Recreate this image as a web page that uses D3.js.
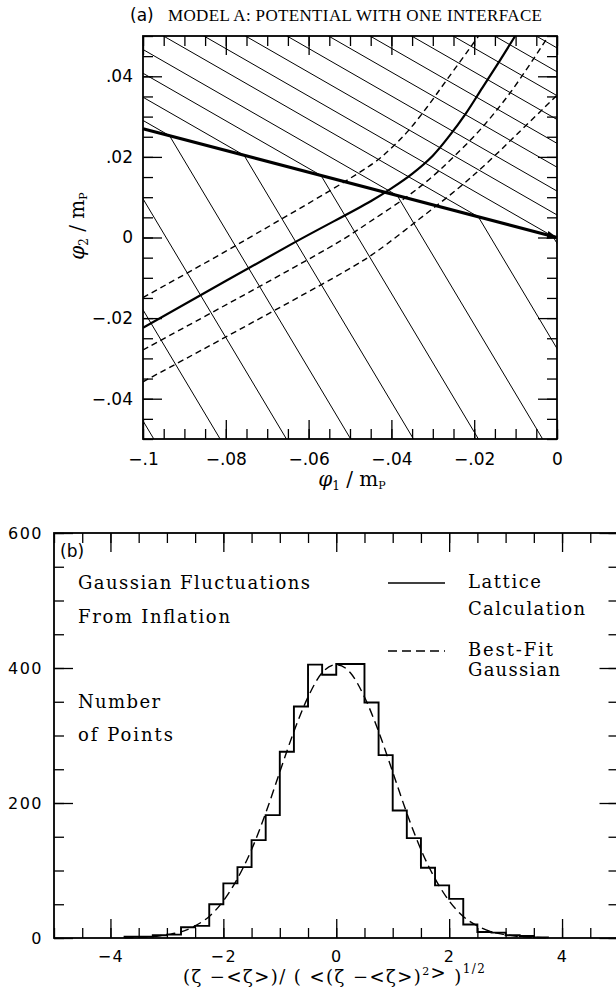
<!DOCTYPE html>
<html>
<head>
<meta charset="utf-8">
<script src="https://cdn.jsdelivr.net/npm/d3@7"></script>
<style>
  body { margin: 0; background: #fff; }
</style>
</head>
<body>
<div id="chart"></div>
<script>
// ---------- panel (a) data : field space, units of m_P ----------
const interfaceLine = [[-0.1, 0.027], [0, 0]];
// x where each equipotential contour meets the interface (some lie outside the frame)
const contourKinks = [-0.150, -0.131, -0.112, -0.0936, -0.0756, -0.057, -0.0386, -0.019, -0.001,
  0.0175, 0.036, 0.0545, 0.073, 0.0915, 0.11, 0.1285, 0.147];
const slopeAbove = -0.59;   // contour slope above the interface
const slopeBelow = -1.72;   // contour slope below the interface

const trajectory = [[-0.1, -0.0224], [-0.0637, -0.0014], [-0.045, 0.009], [-0.04, 0.0122],
  [-0.035, 0.0158], [-0.03, 0.0203], [-0.026, 0.0252], [-0.022, 0.0308], [-0.018, 0.0372],
  [-0.014, 0.0436], [-0.0101, 0.05]];
const trackUpper = [[-0.1, -0.0149], [-0.0766, -0.0014], [-0.0444, 0.0184], [-0.04, 0.0222],
  [-0.036, 0.0264], [-0.0315, 0.0322], [-0.0267, 0.039], [-0.0202, 0.0482], [-0.0188, 0.0502]];
const trackLower1 = [[-0.1, -0.0279], [-0.0532, -0.0014], [-0.0452, 0.0039], [-0.0363, 0.0101],
  [-0.03, 0.0152], [-0.025, 0.02], [-0.0186, 0.0267], [-0.0114, 0.0358], [-0.0037, 0.0474], [-0.0021, 0.05]];
const trackLower2 = [[-0.1, -0.0358], [-0.0492, -0.0072], [-0.0436, -0.0035], [-0.0331, 0.0047],
  [-0.0234, 0.0126], [-0.017, 0.0184], [-0.0098, 0.0255], [-0.0013, 0.034], [0, 0.0353]];

const xTicksA = [-0.1, -0.08, -0.06, -0.04, -0.02, 0];
const xTickLabelsA = ["\u2212.1", "\u2212.08", "\u2212.06", "\u2212.04", "\u2212.02", "0"];
const yTicksA = [-0.04, -0.02, 0, 0.02, 0.04];
const yTickLabelsA = ["\u2212.04", "\u2212.02", "0", ".02", ".04"];

// ---------- panel (b) data : histogram of normalised zeta ----------
const binStart = -3.75, binWidth = 0.25;
const latticeCounts = [2, 2, 4, 5, 16, 18, 50, 81, 105, 145, 182, 276, 343, 405, 390,
  406, 406, 349, 271, 189, 148, 104, 78, 58, 20, 9, 8, 4, 3, 1];
const fitX = [-3.75, -3.5, -3.25, -3, -2.75, -2.5, -2.25, -2, -1.75, -1.5, -1.25, -1, -0.75, -0.5, -0.25, 0,
  0.25, 0.5, 0.75, 1, 1.25, 1.5, 1.75, 2, 2.25, 2.5, 2.75, 3, 3.25, 3.5, 3.75];
const fitY = [0.4, 1, 2, 5, 9, 18, 32, 55, 88, 131, 185, 246, 306, 357, 393, 405,
  393, 357, 306, 246, 185, 131, 88, 55, 32, 18, 9, 5, 2, 1, 0.4];
const xTicksB = [-4, -2, 0, 2, 4];
const xTickLabelsB = ["\u22124", "\u22122", "0", "2", "4"];
const yTicksB = [0, 200, 400, 600];

const svg = d3.select("#chart").append("svg")
  .attr("width", 616)
  .attr("height", 988);

// helper: inward ticks, major + minor, no domain line
function ticks(g, axis, scale, major, minor, labels, pad) {
  g.append("g").call(axis(scale).tickValues(minor).tickSize(-10).tickFormat(""))
    .call(s => s.select(".domain").remove());
  const m = g.append("g").call(axis(scale).tickValues(major).tickSize(-19).tickPadding(pad || 0)
      .tickFormat(labels ? (d, i) => labels[i] : ""))
    .call(s => s.select(".domain").remove());
  g.selectAll("line").attr("stroke", "#000").attr("stroke-width", 1.3);
  return m;
}

// ======================= panel (a) =======================
const xA = d3.scaleLinear().domain([-0.1, 0]).range([143, 557]);
const yA = d3.scaleLinear().domain([-0.05, 0.05]).range([439, 36]);
const lineA = d3.line().x(d => xA(d[0])).y(d => yA(d[1]));
const smoothA = d3.line().x(d => xA(d[0])).y(d => yA(d[1])).curve(d3.curveCatmullRom);

svg.append("defs").append("clipPath").attr("id", "clipA")
  .append("rect").attr("x", 143).attr("y", 36).attr("width", 414).attr("height", 403);

svg.select("defs").append("marker")
  .attr("id", "arrow")
  .attr("markerUnits", "userSpaceOnUse")
  .attr("viewBox", "0 0 10 8")
  .attr("refX", 10).attr("refY", 4)
  .attr("markerWidth", 10).attr("markerHeight", 8)
  .attr("orient", "auto")
  .append("path").attr("d", "M0,0L10,4L0,8Z").attr("fill", "#000");

const plotA = svg.append("g").attr("clip-path", "url(#clipA)");

// equipotentials, kinked where they cross the interface
const ifaceY = d3.scaleLinear().domain(interfaceLine.map(d => d[0])).range(interfaceLine.map(d => d[1]));
plotA.selectAll(".contour")
  .data(contourKinks)
  .join("path")
  .attr("class", "contour")
  .attr("d", k => {
    const yk = ifaceY(k);
    return lineA([[k - 0.3, yk - slopeAbove * 0.3], [k, yk], [k + 0.1, yk + slopeBelow * 0.1]]);
  })
  .attr("fill", "none")
  .attr("stroke", "#000")
  .attr("stroke-width", 1);

plotA.selectAll(".track")
  .data([trackUpper, trackLower1, trackLower2])
  .join("path")
  .attr("class", "track")
  .attr("d", smoothA)
  .attr("fill", "none")
  .attr("stroke", "#000")
  .attr("stroke-width", 1.4)
  .attr("stroke-dasharray", "6,4");

plotA.append("path")
  .attr("d", smoothA(trajectory))
  .attr("fill", "none")
  .attr("stroke", "#000")
  .attr("stroke-width", 2.2);

svg.append("path")
  .attr("d", lineA(interfaceLine))
  .attr("fill", "none")
  .attr("stroke", "#000")
  .attr("stroke-width", 3.2)
  .attr("marker-end", "url(#arrow)");

const axA = svg.append("g");
const xMinorA = d3.range(-100, 1, 5).map(v => v / 1000);
const yMinorA = d3.range(-50, 51, 5).map(v => v / 1000);
ticks(axA.append("g").attr("transform", "translate(0,439)"), d3.axisBottom, xA, xTicksA, xMinorA, xTickLabelsA, 14);
ticks(axA.append("g").attr("transform", "translate(0,36)"), d3.axisTop, xA, xTicksA, xMinorA);
ticks(axA.append("g").attr("transform", "translate(143,0)"), d3.axisLeft, yA, yTicksA, yMinorA, yTickLabelsA, 10);
ticks(axA.append("g").attr("transform", "translate(557,0)"), d3.axisRight, yA, yTicksA, yMinorA);
axA.selectAll("g").attr("font-family", "DejaVu Sans").attr("font-size", 17);
axA.selectAll("text").attr("fill", "#000");

svg.append("rect")
  .attr("x", 143).attr("y", 36).attr("width", 414).attr("height", 403)
  .attr("fill", "none").attr("stroke", "#000").attr("stroke-width", 1.8);

// title and axis titles
svg.append("text").attr("x", 130).attr("y", 21)
  .attr("font-family", "DejaVu Sans").attr("font-size", 17).text("(a)");
svg.append("text").attr("x", 168).attr("y", 21)
  .attr("font-family", "Liberation Serif").attr("font-size", 17)
  .attr("textLength", 374).attr("lengthAdjust", "spacing")
  .text("MODEL A: POTENTIAL WITH ONE INTERFACE");

function fieldLabel(sel, idx) {
  sel.attr("font-family", "DejaVu Serif").attr("font-size", 20);
  sel.append("tspan").attr("font-style", "italic").text("\u03c6");
  sel.append("tspan").attr("font-size", 12).attr("dy", 4).text(idx);
  sel.append("tspan").attr("dy", -4).text("  /  m");
  sel.append("tspan").attr("font-size", 11).attr("dy", 3).text("P");
}
fieldLabel(svg.append("text").attr("x", 352).attr("y", 486).attr("text-anchor", "middle"), "1");
fieldLabel(svg.append("text").attr("transform", "translate(84,226) rotate(-90)").attr("text-anchor", "middle"), "2");

// ======================= panel (b) =======================
const xB = d3.scaleLinear().domain([-5, 5]).range([54, 618.5]);
const yB = d3.scaleLinear().domain([0, 600]).range([938, 533]);

const steps = [[binStart, 0]];
latticeCounts.forEach((c, i) => steps.push([binStart + i * binWidth, c]));
steps.push([binStart + latticeCounts.length * binWidth, latticeCounts[latticeCounts.length - 1]]);
steps.push([binStart + latticeCounts.length * binWidth, 0]);

svg.append("path")
  .attr("d", d3.line().x(d => xB(d[0])).y(d => yB(d[1])).curve(d3.curveStepAfter)(steps))
  .attr("fill", "none")
  .attr("stroke", "#000")
  .attr("stroke-width", 1.9);

svg.append("path")
  .attr("d", d3.line().x((d, i) => xB(fitX[i])).y(d => yB(d)).curve(d3.curveMonotoneX)(fitY))
  .attr("fill", "none")
  .attr("stroke", "#000")
  .attr("stroke-width", 1.4)
  .attr("stroke-dasharray", "9,5");

const axB = svg.append("g");
const xMinorB = d3.range(-10, 11, 1).map(v => v / 2);
const yMinorB = d3.range(0, 601, 50);
ticks(axB.append("g").attr("transform", "translate(0,938)"), d3.axisBottom, xB, xTicksB, xMinorB, xTickLabelsB, 13);
ticks(axB.append("g").attr("transform", "translate(0,533)"), d3.axisTop, xB, xTicksB, xMinorB);
ticks(axB.append("g").attr("transform", "translate(54,0)"), d3.axisLeft, yB, yTicksB, yMinorB, yTicksB.map(String), 11);
ticks(axB.append("g").attr("transform", "translate(618.5,0)"), d3.axisRight, yB, yTicksB, yMinorB);
axB.selectAll("g").attr("font-family", "DejaVu Sans").attr("font-size", 16);
axB.selectAll("text").attr("fill", "#000").attr("letter-spacing", 1.5);

svg.append("rect")
  .attr("x", 54).attr("y", 533).attr("width", 564.5).attr("height", 405)
  .attr("fill", "none").attr("stroke", "#000").attr("stroke-width", 1.8);

// legend
svg.append("line").attr("x1", 388).attr("x2", 445).attr("y1", 583).attr("y2", 583)
  .attr("stroke", "#000").attr("stroke-width", 1.4);
svg.append("line").attr("x1", 388).attr("x2", 445).attr("y1", 651).attr("y2", 651)
  .attr("stroke", "#000").attr("stroke-width", 1.4).attr("stroke-dasharray", "9,5");

const notes = [
  ["Gaussian Fluctuations", 78, 589, 232],
  ["From Inflation", 78, 623, 152],
  ["Number", 78, 708, 82],
  ["of Points", 78, 741, 95],
  ["Lattice", 468, 588, 73],
  ["Calculation", 468, 615, 117],
  ["Best-Fit", 468, 656, 85],
  ["Gaussian", 468, 676, 92]
];
svg.selectAll(".note")
  .data(notes)
  .join("text")
  .attr("class", "note")
  .attr("x", d => d[1]).attr("y", d => d[2])
  .attr("textLength", d => d[3]).attr("lengthAdjust", "spacing")
  .attr("font-family", "DejaVu Serif").attr("font-size", 18)
  .text(d => d[0]);

svg.append("text").attr("x", 60).attr("y", 557)
  .attr("font-family", "DejaVu Sans").attr("font-size", 17).text("(b)");

const xt = svg.append("text").attr("x", 183).attr("y", 983)
  .attr("font-family", "DejaVu Serif").attr("font-size", 18)
  .attr("textLength", 302).attr("lengthAdjust", "spacing");
xt.append("tspan").text("(\u03b6 \u2212<\u03b6>)/ ( <(\u03b6 \u2212<\u03b6>)");
xt.append("tspan").attr("font-size", 11).attr("dy", -8).text("2");
xt.append("tspan").attr("dy", 4).text(">");
xt.append("tspan").attr("dy", 4).text(" )");
xt.append("tspan").attr("font-size", 12).attr("dy", -10).text("1/2");
</script>
</body>
</html>
